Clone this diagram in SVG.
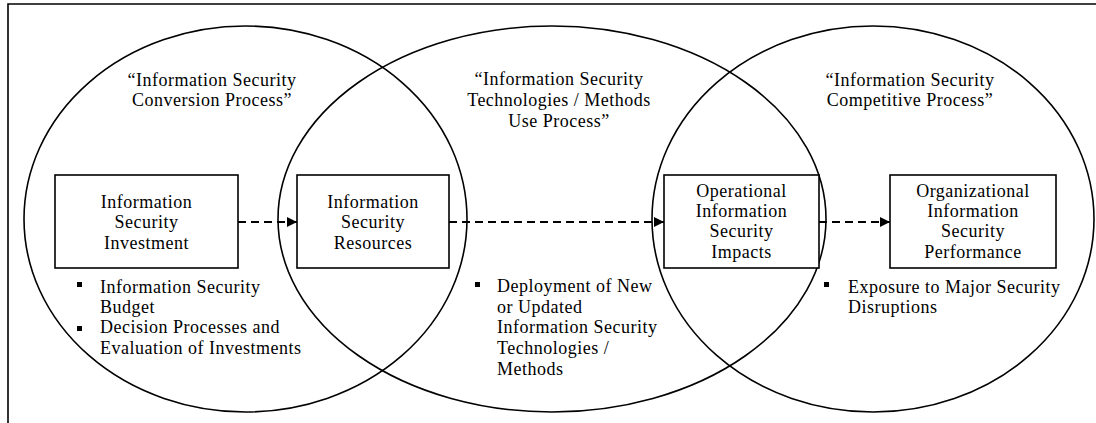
<svg xmlns="http://www.w3.org/2000/svg" width="1096" height="423" viewBox="0 0 1096 423">
<defs>
<style>
text{font-family:'Liberation Serif','DejaVu Serif','Times New Roman',serif;font-size:18px;fill:#000;letter-spacing:0.5px}
.c{text-anchor:middle}
.e{fill:none;stroke:#000;stroke-width:1.6}
.b{fill:#fff;stroke:#000;stroke-width:1.6}
.d{fill:none;stroke:#000;stroke-width:2;stroke-dasharray:8,5}
</style>
<marker id="ah" markerUnits="userSpaceOnUse" markerWidth="11" markerHeight="10" refX="10" refY="5" orient="auto">
<path d="M0,0 L10,5 L0,10 Z" fill="#000"/>
</marker>
</defs>
<rect width="1096" height="423" fill="#fff"/>
<path d="M8,423 V4 H1096" fill="none" stroke="#000" stroke-width="1.6"/>
<g id="circles">
<ellipse id="e1" class="e" cx="245.5" cy="219" rx="221.5" ry="193"/>
<ellipse id="e2" class="e" cx="552" cy="219" rx="274" ry="193"/>
<ellipse id="e3" class="e" cx="873" cy="219" rx="221" ry="193"/>
</g>
<g font-family="Liberation Serif, serif">
<g id="titles">
<text class="c" x="212" y="86">“Information Security</text>
<text class="c" x="212" y="106">Conversion Process”</text>
<text class="c" x="559" y="85">“Information Security</text>
<text class="c" x="559" y="106">Technologies / Methods</text>
<text class="c" x="559" y="127">Use Process”</text>
<text class="c" x="910" y="86">“Information Security</text>
<text class="c" x="910" y="106">Competitive Process”</text>
</g>
<g id="connectors">
<line class="d" x1="238" y1="222" x2="297" y2="222" marker-end="url(#ah)"/>
<line class="d" x1="449" y1="222" x2="664" y2="222" marker-end="url(#ah)"/>
<line class="d" x1="819" y1="222" x2="890" y2="222" marker-end="url(#ah)"/>
</g>
<g id="n1">
<rect class="b" x="55" y="175" width="183" height="93"/>
<text class="c" x="146.5" y="208">Information</text>
<text class="c" x="146.5" y="228">Security</text>
<text class="c" x="146.5" y="249">Investment</text>
</g>
<g id="n2">
<rect class="b" x="297" y="175" width="152" height="93"/>
<text class="c" x="373" y="208">Information</text>
<text class="c" x="373" y="228">Security</text>
<text class="c" x="373" y="249">Resources</text>
</g>
<g id="n3">
<rect class="b" x="664" y="175" width="155" height="93"/>
<text class="c" x="741.5" y="197">Operational</text>
<text class="c" x="741.5" y="217">Information</text>
<text class="c" x="741.5" y="237">Security</text>
<text class="c" x="741.5" y="258">Impacts</text>
</g>
<g id="n4">
<rect class="b" x="890" y="175" width="166" height="93"/>
<text class="c" x="973" y="197">Organizational</text>
<text class="c" x="973" y="217">Information</text>
<text class="c" x="973" y="237">Security</text>
<text class="c" x="973" y="258">Performance</text>
</g>
<g id="bullets1">
<rect x="77" y="282" width="5" height="5" fill="#000"/>
<text x="100" y="293">Information Security</text>
<text x="100" y="313">Budget</text>
<rect x="77" y="326" width="5" height="5" fill="#000"/>
<text x="100" y="333">Decision Processes and</text>
<text x="100" y="354">Evaluation of Investments</text>
</g>
<g id="bullets2">
<rect x="475" y="282" width="5" height="5" fill="#000"/>
<text x="497" y="292">Deployment of New</text>
<text x="497" y="313">or Updated</text>
<text x="497" y="333">Information Security</text>
<text x="497" y="354">Technologies /</text>
<text x="497" y="375">Methods</text>
</g>
<g id="bullets3">
<rect x="824" y="282" width="5" height="5" fill="#000"/>
<text x="848" y="293">Exposure to Major Security</text>
<text x="848" y="313">Disruptions</text>
</g>
</g>
</svg>
